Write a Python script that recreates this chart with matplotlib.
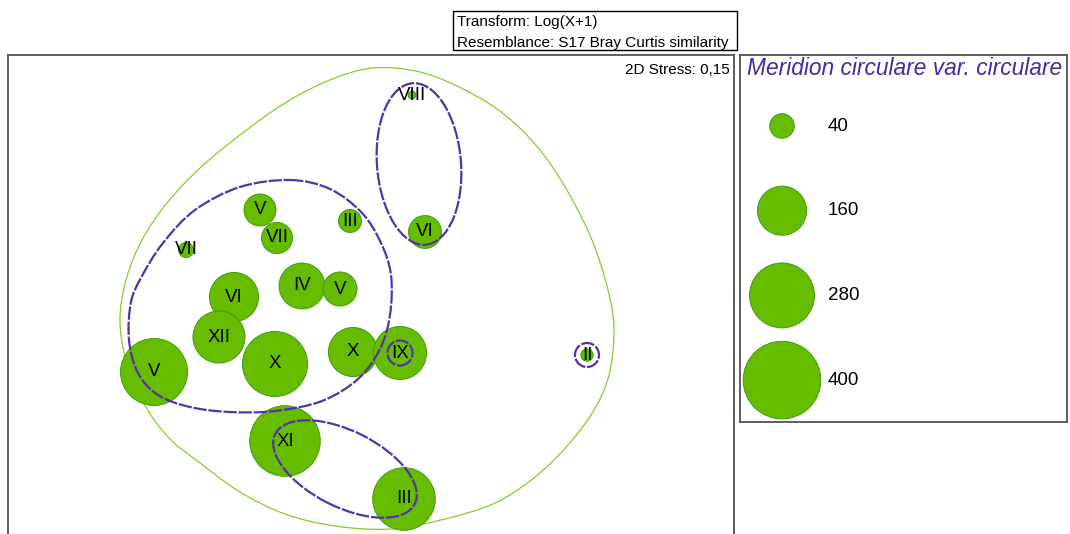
import numpy as np
import matplotlib
matplotlib.use("Agg")
import matplotlib.pyplot as plt
from matplotlib.path import Path
from matplotlib.patches import PathPatch, Ellipse, Rectangle

plt.rcParams['font.family'] = ['Liberation Sans', 'DejaVu Sans']

# ---------------- data ----------------
labels = ["VIII", "VI", "V", "VII", "III", "VII", "VI", "IV", "V",
          "XII", "X", "V", "X", "IX", "II", "XI", "III"]
mds_x = [0.42, 0.55, -1.10, -0.93, -0.20, -1.84, -1.36, -0.68, -0.30,
         -1.51, -0.95, -2.16, -0.17, 0.30, 2.17, -0.85, 0.34]
mds_y = [2.15, 0.78, 1.00, 0.72, 0.89, 0.60, 0.13, 0.24, 0.21,
         -0.27, -0.54, -0.62, -0.42, -0.43, -0.45, -1.31, -1.89]
abundance = [4, 72, 68, 64, 35, 15, 160, 140, 77,
             180, 281, 298, 160, 187, 10, 331, 260]

legend_values = [40, 160, 280, 400]
legend_title = "Meridion circulare var. circulare"
stress_text = "2D Stress: 0,15"
header_lines = ["Transform: Log(X+1)", "Resemblance: S17 Bray Curtis similarity"]

# similarity contour outlines (MDS units)
green_contour_x = [0.03, 0.50, 0.95, 1.35, 1.70, 1.98, 2.22, 2.38, 2.44, 2.39, 2.24,
                   1.98, 1.65, 1.25, 0.75, 0.20, -0.35, -0.85, -1.30, -1.70, -2.02,
                   -2.27, -2.44, -2.50, -2.44, -2.28, -2.03, -1.70, -1.30, -0.85, -0.40]
green_contour_y = [2.42, 2.38, 2.20, 1.95, 1.60, 1.18, 0.70, 0.20, -0.20, -0.65, -1.00,
                   -1.35, -1.67, -1.93, -2.09, -2.19, -2.16, -2.04, -1.82, -1.53, -1.27,
                   -0.92, -0.50, -0.10, 0.30, 0.70, 1.07, 1.42, 1.75, 2.07, 2.30]
purple_blob_x = [-0.80, -0.40, -0.08, 0.11, 0.21, 0.20, 0.10, -0.12, -0.48, -0.95,
                 -1.40, -1.80, -2.12, -2.32, -2.41, -2.39, -2.28, -2.07, -1.75, -1.30]
purple_blob_y = [1.30, 1.21, 0.97, 0.67, 0.35, -0.05, -0.39, -0.69, -0.91, -1.01,
                 -1.02, -0.97, -0.85, -0.63, -0.30, 0.08, 0.34, 0.67, 1.00, 1.23]
# (center x, center y, width, height, angle)
purple_ellipses = [(0.49, 1.46, 0.84, 1.62, 4.6),
                   (-0.25, -1.59, 1.56, 0.76, -26.6),
                   (0.30, -0.43, 0.25, 0.25, 0.0),
                   (2.17, -0.45, 0.24, 0.24, 0.0)]

# ---------------- style ----------------
W, H = 1070, 534
FILL = "#66bd00"
EDGE = "#3f9a12"
PURPLE = "#5432aa"
LGREEN = "#86cc30"
FRAME = "#5c5c62"
SIZE_K = 7.8  # points^2 per abundance unit

fig = plt.figure(figsize=(W / 100, H / 100), dpi=100)


def fx(px):
    return px / W


def fy(py):
    return 1 - py / H


def smooth_closed(xs, ys):
    pts = np.column_stack([xs, ys])
    n = len(pts)
    verts = [pts[0]]
    codes = [Path.MOVETO]
    for i in range(n):
        p0, p1, p2, p3 = pts[i - 1], pts[i], pts[(i + 1) % n], pts[(i + 2) % n]
        verts += [p1 + (p2 - p0) / 6, p2 - (p3 - p1) / 6, p2]
        codes += [Path.CURVE4] * 3
    return Path(verts, codes)


# ---------------- main panel ----------------
left, right, top, bottom = 8, 734, 55, 545
ax = fig.add_axes([fx(left), fy(bottom), fx(right - left), (bottom - top) / H])
scale = 100.0
ax.set_xlim((left - 370) / scale, (right - 370) / scale)
ax.set_ylim((310 - bottom) / scale, (310 - top) / scale)
ax.set_xticks([])
ax.set_yticks([])
for sp in ax.spines.values():
    sp.set_color(FRAME)
    sp.set_linewidth(1.4)

ax.add_patch(PathPatch(smooth_closed(green_contour_x, green_contour_y),
                       fc="none", ec=LGREEN, lw=0.9, zorder=1))

ax.scatter(mds_x, mds_y, s=[SIZE_K * v for v in abundance], c=FILL,
           edgecolors=EDGE, linewidths=0.7, zorder=2)

dash = (0, (6, 0.8))
ax.add_patch(PathPatch(smooth_closed(purple_blob_x, purple_blob_y),
                       fc="none", ec=PURPLE, lw=1.6, ls=dash, zorder=3))
for cx, cy, w, h, a in purple_ellipses:
    ax.add_patch(Ellipse((cx, cy), w, h, angle=a, fc="none", ec=PURPLE,
                         lw=1.6, ls=dash, zorder=3))

for lab, x, y in zip(labels, mds_x, mds_y):
    ax.text(x, y, lab, ha="center", va="center", fontsize=13.5,
            color="black", zorder=4)

ax.text(fx(730 - left) / fx(right - left), 1 - (74 - top) / (bottom - top),
        stress_text, transform=ax.transAxes, ha="right", va="baseline",
        fontsize=11, color="black")

# ---------------- header box ----------------
fig.add_artist(Rectangle((fx(453), fy(50)), fx(737 - 453), (50 - 11) / H,
                         transform=fig.transFigure, fc="white", ec="black", lw=1.0))
fig.text(fx(457), fy(26), header_lines[0], ha="left", va="baseline", fontsize=11)
fig.text(fx(457), fy(46.5), header_lines[1], ha="left", va="baseline", fontsize=11)

# ---------------- legend panel ----------------
lg_l, lg_r, lg_t, lg_b = 740, 1067, 55, 422
lax = fig.add_axes([fx(lg_l), fy(lg_b), fx(lg_r - lg_l), (lg_b - lg_t) / H])
lax.set_xlim(lg_l, lg_r)
lax.set_ylim(lg_b, lg_t)
lax.set_xticks([])
lax.set_yticks([])
for sp in lax.spines.values():
    sp.set_color(FRAME)
    sp.set_linewidth(1.4)

lax.text(905, 75, legend_title, ha="center", va="baseline", fontsize=16.4,
         style="italic", color="#4a2aa0")
rows = np.arange(len(legend_values))
row_y = 126 + rows * 84.7
lax.scatter(np.full(len(legend_values), 782.0), row_y,
            s=[SIZE_K * v for v in legend_values], c=FILL, edgecolors=EDGE,
            linewidths=0.7, clip_on=False, zorder=2)
for v, y in zip(legend_values, row_y):
    lax.text(828, y, str(v), ha="left", va="center", fontsize=13.5, color="black")

fig.savefig("out.png", dpi=100)
